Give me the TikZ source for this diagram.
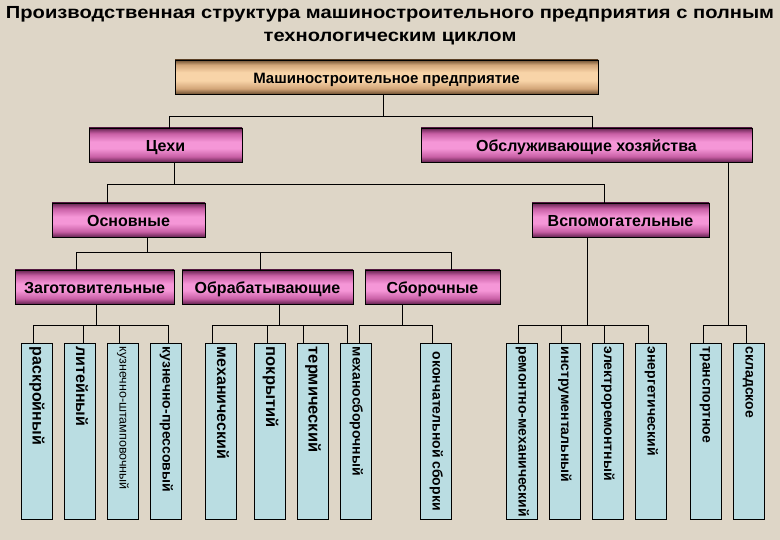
\documentclass[tikz,border=0pt]{standalone}
\usepackage{fontspec}
\setmainfont{Liberation Sans}
\definecolor{bg}{RGB}{222,214,199}
\definecolor{pdark}{RGB}{100,35,80}
\definecolor{pmid}{RGB}{200,95,165}
\definecolor{plight}{RGB}{245,150,215}
\definecolor{tdark}{RGB}{110,80,50}
\definecolor{tmid}{RGB}{210,165,120}
\definecolor{tlight}{RGB}{248,212,168}
\definecolor{leafc}{RGB}{186,221,226}
\pgfdeclareverticalshading{pinkcyl}{100bp}{color(0bp)=(pdark); color(25bp)=(pdark); color(33bp)=(pmid); color(45bp)=(plight); color(55bp)=(plight); color(67bp)=(pmid); color(75bp)=(pdark); color(100bp)=(pdark)}
\pgfdeclareverticalshading{tancyl}{100bp}{color(0bp)=(tdark); color(25bp)=(tdark); color(33bp)=(tmid); color(45bp)=(tlight); color(57bp)=(tlight); color(68bp)=(tmid); color(75bp)=(tdark); color(100bp)=(tdark)}
\tikzset{
  box/.style={draw=black, line width=0.9pt, inner sep=0pt, minimum height=34pt, text height=12.5pt, text depth=0pt},
  pinkbox/.style={box, shading=pinkcyl, font=\fontsize{16}{18}\selectfont\bfseries},
  topbox/.style={box, shading=tancyl, font=\fontsize{15}{17}\selectfont\bfseries},
  leaf/.style={draw=black, line width=0.9pt, fill=leafc, inner sep=0pt, minimum width=31pt, minimum height=176pt},
  leaftext/.style={rotate=-90, anchor=base west, inner sep=0pt, font=\fontsize{14}{16}\selectfont\bfseries},
  bigleaf/.style={leaftext, font=\fontsize{16}{18}\selectfont\bfseries},
  titletext/.style={anchor=base, inner sep=0pt, font=\fontsize{17.5}{20}\selectfont\bfseries, xscale=1.15, transform shape},
  conn/.style={draw=black, line width=0.9pt}
}
\begin{document}
\begin{tikzpicture}[x=1pt,y=-1pt]
\fill[bg] (0,0) rectangle (780,540);
\useasboundingbox (0,0) rectangle (780,540);
\node[titletext] (title1) at (390,18.7) {Производственная структура машиностроительного предприятия с полным};
\node[titletext] (title2) at (390,41.2) {технологическим циклом};
% boxes
\node[topbox, minimum width=423pt] (top) at (386.5,77) {Машиностроительное предприятие};
\node[pinkbox, minimum width=153pt] (ceh) at (165.5,145) {Цехи};
\node[pinkbox, minimum width=331pt] (obs) at (586.5,145) {Обслуживающие хозяйства};
\node[pinkbox, minimum width=153pt] (osn) at (128.5,220) {Основные};
\node[pinkbox, minimum width=177pt] (vsp) at (620.5,220) {Вспомогательные};
\node[pinkbox, minimum width=159pt] (zag) at (94.5,287) {Заготовительные};
\node[pinkbox, minimum width=171pt] (obr) at (267.5,287) {Обрабатывающие};
\node[pinkbox, minimum width=135pt] (sbo) at (432.5,287) {Сборочные};
% leaves
\foreach \n/\x in {1/36.5,2/80,3/122.5,4/166,5/221,6/270,7/312.5,8/356,9/436,10/522,11/564.5,12/607.5,13/651,14/706,15/749}
  \node[leaf] (l\n) at (\x,431) {};
\node[bigleaf] (t1) at ([xshift=-4pt,yshift=-4pt]l1.north) {раскройный};
\node[bigleaf] (t2) at ([xshift=-4pt,yshift=-4pt]l2.north) {литейный};
\node[leaftext, font=\fontsize{12.5}{14}\selectfont] (t3) at ([xshift=-3pt,yshift=-4pt]l3.north) {кузнечно-штамповочный};
\node[leaftext] (t4) at ([xshift=-3.5pt,yshift=-4pt]l4.north) {кузнечно-прессовый};
\node[bigleaf] (t5) at ([xshift=-4pt,yshift=-4pt]l5.north) {механический};
\node[bigleaf, font=\fontsize{16.5}{18}\selectfont\bfseries] (t6) at ([xshift=-4pt,yshift=-4pt]l6.north) {покрытий};
\node[bigleaf, font=\fontsize{16.5}{18}\selectfont\bfseries] (t7) at ([xshift=-4pt,yshift=-4pt]l7.north) {термический};
\node[leaftext] (t8) at ([xshift=-3.5pt,yshift=-4pt]l8.north) {механосборочный};
\node[leaftext] (t9) at ([xshift=-3.5pt,yshift=-9pt]l9.north) {окончательной сборки};
\node[leaftext] (t10) at ([xshift=-3.5pt,yshift=-4pt]l10.north) {ремонтно-механический};
\node[leaftext] (t11) at ([xshift=-3.5pt,yshift=-4pt]l11.north) {инструментальный};
\node[leaftext] (t12) at ([xshift=-3.5pt,yshift=-4pt]l12.north) {электроремонтный};
\node[leaftext] (t13) at ([xshift=-3.5pt,yshift=-4pt]l13.north) {энергетический};
\node[leaftext] (t14) at ([xshift=-3.5pt,yshift=-4pt]l14.north) {транспортное};
\node[leaftext] (t15) at ([xshift=-3.5pt,yshift=-4pt]l15.north) {складское};
% connectors
\draw[conn] ([xshift=-3.5pt]top.south) -- ++(0,23);
\draw[conn] ([xshift=3.5pt]ceh.north) -- ++(0,-11) -| ([xshift=5.5pt]obs.north);
\draw[conn] ([xshift=8.5pt]ceh.south) -- ++(0,23);
\draw[conn] ([xshift=-21.5pt]osn.north) -- ++(0,-18) -| ([xshift=-16.5pt]vsp.north);
\draw[conn] ([xshift=18.5pt]osn.south) -- ++(0,16);
\draw[conn] ([xshift=-18.5pt]zag.north) -- ++(0,-17) -| ([xshift=18.5pt]sbo.north);
\draw[conn] ([xshift=-7.5pt]obr.north) -- ++(0,-17);
\draw[conn] ([xshift=1.5pt]zag.south) -- ++(0,22);
\draw[conn] ([xshift=-3.5pt]l1.north) -- ++(0,-17) -| ([xshift=2pt]l4.north);
\draw[conn] ([xshift=3pt]l2.north) -- ++(0,-17);
\draw[conn] ([xshift=-3.5pt]l3.north) -- ++(0,-17);
\draw[conn] ([xshift=11.5pt]obr.south) -- ++(0,22);
\draw[conn] ([xshift=-9pt]l5.north) -- ++(0,-17) -| ([xshift=-9pt]l8.north);
\draw[conn] ([xshift=-3pt]l6.north) -- ++(0,-17);
\draw[conn] ([xshift=-9.5pt]l7.north) -- ++(0,-17);
\draw[conn] ([xshift=-30.5pt]sbo.south) -- ++(0,22);
\draw[conn] ([xshift=3pt]l8.north) -- ++(0,-17) -| ([xshift=-4pt]l9.north);
\draw[conn] ([xshift=-33.5pt]vsp.south) -- ++(0,89);
\draw[conn] ([xshift=-4pt]l10.north) -- ++(0,-17) -| ([xshift=-3pt]l13.north);
\draw[conn] ([xshift=-3.5pt]l11.north) -- ++(0,-17);
\draw[conn] ([xshift=-3.5pt]l12.north) -- ++(0,-17);
\draw[conn] ([xshift=141.5pt]obs.south) -- ++(0,164);
\draw[conn] ([xshift=-3pt]l14.north) -- ++(0,-17) -| ([xshift=-3pt]l15.north);
\end{tikzpicture}
\end{document}
